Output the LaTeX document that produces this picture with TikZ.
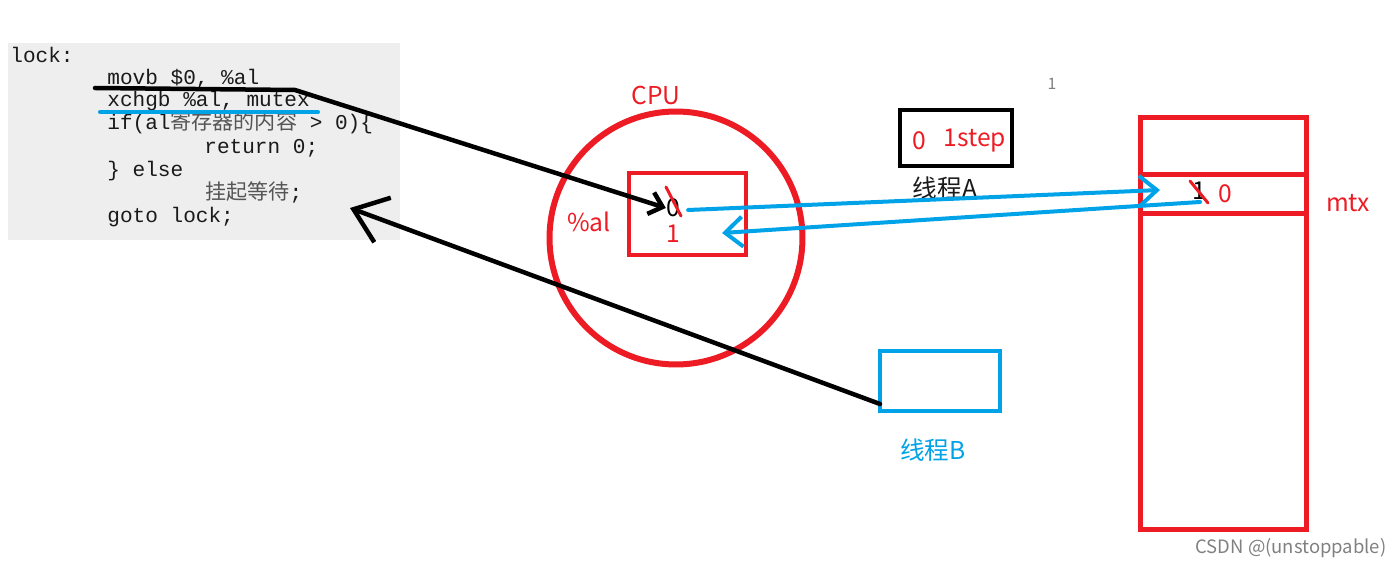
\documentclass[tikz,border=0pt]{standalone}
\usepackage{fontspec}
\setmainfont{Noto Sans CJK SC}
\setmonofont{Liberation Mono}
\newfontfamily\cjk{Noto Sans CJK SC}
\usetikzlibrary{arrows.meta}
\definecolor{cpured}{HTML}{ED1C24}
\definecolor{thblue}{HTML}{00A2E8}
\definecolor{codebg}{HTML}{EEEEEE}
\definecolor{codefg}{HTML}{1A1A1A}
\definecolor{cjkfg}{HTML}{555555}

\begin{document}
\begin{tikzpicture}[x=0.02cm,y=-0.02cm]
\tikzstyle{every node}+=[inner sep=0pt]
\tikzstyle{code}=[anchor=west,font=\ttfamily\fontsize{12}{14}\selectfont,text=codefg,text height=1.6ex,text depth=0.4ex]
\tikzstyle{lbl}=[font=\fontsize{14}{16}\selectfont]
\tikzstyle{blk}=[black,line width=0.09cm,line cap=round,line join=round]
\tikzstyle{blu}=[thblue,line width=0.08cm,line cap=round,line join=round]
\tikzstyle{slash}=[cpured,line width=0.06cm,line cap=round]
\tikzstyle{smallbarb}=[-{Straight Barb[length=0.25cm,width=0.45cm]}]
\tikzstyle{bigbarb}=[-{Straight Barb[length=0.62cm,width=0.95cm]}]
\tikzstyle{midbarb}=[-{Straight Barb[length=0.35cm,width=0.6cm]}]
\useasboundingbox (0,0) rectangle (1397,567);

% code panel
\fill [codebg] (8,43) rectangle (400,240);
\node [code] (lock) at (10,57) {lock:};
\node [code] (movb) at (107,79) {movb \$0, \%al};
\node [code] (xchg) at (107,101) {xchgb \%al, mutex};
\node [code] (iftest) at (107,124) {if(al{\cjk\color{cjkfg}寄存器的内容} > 0)\{};
\node [code] (ret) at (204,148) {return 0;};
\node [code] (else) at (107,171) {\} else};
\node [code] (wait) at (205,194) {{\cjk\color{cjkfg}挂起等待};};
\node [code] (gotol) at (107,217) {goto lock;};

% CPU
\node [draw=cpured,line width=0.12cm,circle,minimum size=5.06cm] (cpu) at (676,238) {};
\node [lbl,text=cpured] (cpulbl) at (656,95) {CPU};
\node [draw=cpured,line width=0.08cm,minimum width=2.34cm,minimum height=1.64cm] (reg) at (687.5,214) {};
\node [lbl,text=cpured] (al) at (589,222) {\%al};
\node [lbl] (zero) at (673,208) {0};
\node [lbl,text=cpured] (one) at (673,234) {1};
\draw [slash] (666,187) -- (681,216);

% thread A
\node [draw,line width=0.08cm,minimum width=2.24cm,minimum height=1.12cm] (step) at (956,138) {};
\node [lbl,text=cpured] (stepz) at (919,141) {0};
\node [lbl,text=cpured] (stepo) at (975,141) {1step};
\node [lbl,text=codefg] (tha) at (945,188) {线程A};
\node [font=\fontsize{9}{10}\selectfont,text=gray] (tick) at (1052,84) {1};

% mtx
\node [draw=cpured,line width=0.1cm,minimum width=3.34cm,minimum height=8.26cm] (mtx) at (1223.5,323.5) {};
\draw [cpured,line width=0.1cm] (mtx.west |- 0,175) -- (mtx.east |- 0,175);
\draw [cpured,line width=0.1cm] (mtx.west |- 0,214) -- (mtx.east |- 0,214);
\node [lbl] (mone) at (1199,191) {1};
\node [lbl,text=cpured] (mzero) at (1225,194) {0};
\draw [slash] (1190,181) -- (1208,203);
\node [lbl,text=cpured] (mtxlbl) at (1348,203) {mtx};

% thread B
\node [draw=thblue,line width=0.08cm,minimum width=2.4cm,minimum height=1.2cm] (thb) at (940,381) {};
\node [lbl,text=thblue] (thblbl) at (933,450) {线程B};

% arrows
\coordinate (ula) at (95,88);
\coordinate (ulb) at (295,90);
\draw [blk,smallbarb] (ula) -- (ulb) -- (zero.west);
\coordinate (ubla) at (100,112);
\coordinate (ublb) at (318,112);
\draw [blu] (ubla) -- (ublb);
\coordinate (cellin) at (1160,190);
\coordinate (cellout) at (1200,202);
\coordinate (regin) at (722,233);
\draw [blu,midbarb] (zero.east) ++(8,2) -- (cellin);
\draw [blu,midbarb] (cellout) -- (regin);
\coordinate (bfrom) at (880,404);
\coordinate (gotoend) at (350,208);
\draw [blk,bigbarb] (bfrom) -- (gotoend);

\node [font=\fontsize{10.5}{12}\selectfont,text=gray] (csdn) at (1291,548) {CSDN @(unstoppable)};
\end{tikzpicture}
\end{document}
